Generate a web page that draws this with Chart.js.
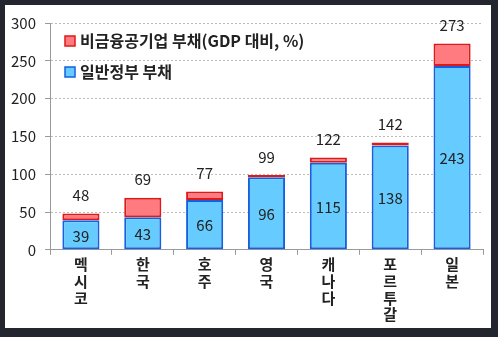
<!DOCTYPE html>
<html>
<head>
<meta charset="utf-8">
<script src="https://cdn.jsdelivr.net/npm/chart.js@4.4.1/dist/chart.umd.min.js"></script>
<style>
  html, body { margin: 0; padding: 0; background: #24262f; }
  #box { position: absolute; left: 5px; top: 5px; width: 486px; height: 323px; background: #fff; }
</style>
</head>
<body>
<div id="box"><canvas id="barChart" width="486" height="323"></canvas></div>
<script>
// data
const countries = ['멕시코', '한국', '호주', '영국', '캐나다', '포르투갈', '일본'];
const govDebt = [39, 43, 66, 96, 115, 138, 243];
const totalDebt = [48, 69, 77, 99, 122, 142, 273];
const seLabels = ['비금융공기업 부채(GDP 대비, %)', '일반정부 부채'];
const yTicks = [0, 50, 100, 150, 200, 250, 300];

// red part = total minus government part
const soeDebt = totalDebt.map((t, i) => t - govDebt[i]);

const FONT = "'Noto Sans CJK KR', 'Noto Sans', sans-serif";

// value labels: inner number on blue, total over the stack
const valueLabels = {
    id: 'valueLabels',
    afterDatasetsDraw(chart) {
        const ctx = chart.ctx;
        const blue = chart.getDatasetMeta(0).data;
        const red = chart.getDatasetMeta(1).data;
        ctx.save();
        ctx.fillStyle = '#222';
        ctx.textAlign = 'center';
        ctx.textBaseline = 'middle';
        ctx.font = '15px ' + FONT;
        blue.forEach((bar, i) => {
            ctx.fillText(govDebt[i], bar.x, (bar.y + bar.base) / 2 + 1);
            ctx.fillText(totalDebt[i], red[i].x, red[i].y - 18);
        });
        ctx.restore();
    }
};

// legend drawn inside the plot, red first
const innerLegend = {
    id: 'innerLegend',
    afterDraw(chart) {
        const ctx = chart.ctx;
        const items = [
            {text: seLabels[0], fill: '#ff7b7f', stroke: '#e01818'},
            {text: seLabels[1], fill: '#66ccff', stroke: '#1560e0'}
        ];
        ctx.save();
        ctx.font = 'bold 16px ' + FONT;
        ctx.textBaseline = 'middle';
        items.forEach((it, k) => {
            const y = 36 + k * 31;
            ctx.fillStyle = it.fill;
            ctx.strokeStyle = it.stroke;
            ctx.lineWidth = 1.5;
            ctx.fillRect(60, y - 5, 10, 10);
            ctx.strokeRect(60, y - 5, 10, 10);
            ctx.fillStyle = '#222';
            ctx.fillText(it.text, 75, y);
        });
        ctx.restore();
    }
};

const data = {
    labels: countries.map(c => c.split('')),
    datasets: [{
        label: seLabels[1],
        data: govDebt,
        backgroundColor: '#66ccff',
        borderColor: '#1560e0',
        borderWidth: 2,
        borderSkipped: false
    }, {
        label: seLabels[0],
        data: soeDebt,
        backgroundColor: '#ff7b7f',
        borderColor: '#e01818',
        borderWidth: 2,
        borderSkipped: false
    }]
};

const config = {
    type: 'bar',
    data: data,
    options: {
        responsive: false,
        animation: false,
        layout: { padding: { top: 0, right: 8, left: 0, bottom: 4 } },
        datasets: { bar: { barPercentage: 0.6, categoryPercentage: 1 } },
        plugins: { legend: { display: false }, tooltip: { enabled: false } },
        scales: {
            x: {
                stacked: true,
                grid: { display: true, drawOnChartArea: false, offset: true, tickLength: 5, color: '#999' },
                border: { color: '#999' },
                ticks: { color: '#222', font: { family: FONT, size: 15, weight: 'bold', lineHeight: 1.12 }, padding: 1, maxRotation: 0 }
            },
            y: {
                stacked: true,
                min: 0,
                max: 300,
                afterBuildTicks: s => { s.ticks = yTicks.map(v => ({value: v})); },
                afterFit: s => { s.width = 45; },
                grid: { color: '#bdbdbd', tickLength: 5, tickColor: '#999' },
                border: { color: '#999', dash: [2, 2] },
                ticks: { color: '#222', font: { family: FONT, size: 15 }, padding: 9 }
            }
        }
    },
    plugins: [valueLabels, innerLegend]
};

const myChart = new Chart(document.getElementById('barChart'), config);
</script>
</body>
</html>
